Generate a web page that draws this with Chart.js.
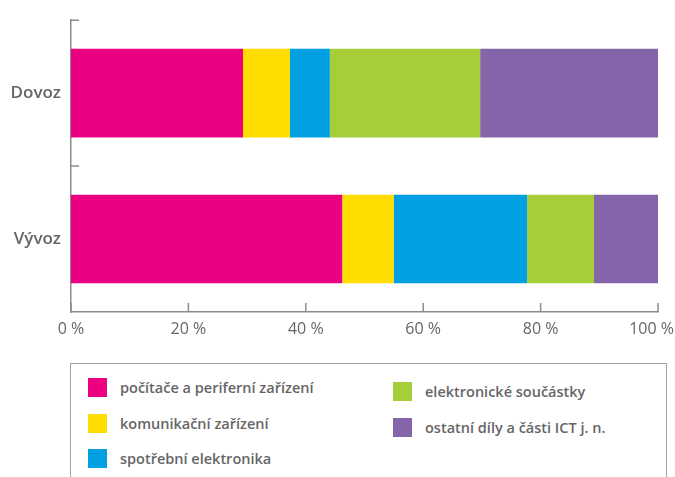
<!DOCTYPE html>
<html>
<head>
<meta charset="utf-8">
<script src="https://cdn.jsdelivr.net/npm/chart.js@4/dist/chart.umd.min.js"></script>
<style>
  body { margin: 0; background: #fff; width: 675px; height: 477px; overflow: hidden; position: relative; font-family: "Open Sans", sans-serif; }
  #wrap { position: absolute; left: 0; top: 0; width: 675px; height: 345px; }
  #legend { position: absolute; left: 70px; top: 363px; width: 597px; height: 130px; border: 1.5px solid #a3a3a3; box-sizing: border-box; }
  .col { position: absolute; }
  .item { display: flex; align-items: center; height: 35.5px; color: #666; font-size: 14.5px; font-weight: 600; white-space: nowrap; }
  .sw { width: 19px; height: 19px; margin-right: 13px; flex: none; }
</style>
</head>
<body>
<div id="wrap"><canvas id="myChart" width="675" height="345"></canvas></div>
<div id="legend"></div>
<script>
const categories = ["Dovoz", "Vývoz"];
const seriesNames = [
  "počítače a periferní zařízení",
  "komunikační zařízení",
  "spotřební elektronika",
  "elektronické součástky",
  "ostatní díly a části ICT j. n."
];
const pocitace = [29.3, 46.2];
const komunikace = [8.0, 8.8];
const spotrebni = [6.8, 22.7];
const soucastky = [25.6, 11.4];
const ostatni = [30.3, 10.9];
const xTicks = [0, 20, 40, 60, 80, 100];

const colors = ["#EB0081", "#FFDD00", "#00A0E3", "#A6CE39", "#8465A9"];
const AXIS = "#8c8c8c";
const TEXT = "#666666";

const values = [pocitace, komunikace, spotrebni, soucastky, ostatni];

// ticks pointing inwards from the axes, x labels kept inside the canvas
const innerTicks = {
  id: "innerTicks",
  afterDraw(chart) {
    const { ctx, chartArea, scales: { x, y } } = chart;
    ctx.save();
    ctx.strokeStyle = AXIS;
    ctx.lineWidth = 1.5;
    ctx.beginPath();
    x.ticks.forEach((t, i) => {
      const px = x.getPixelForTick(i);
      ctx.moveTo(px, chartArea.bottom);
      ctx.lineTo(px, chartArea.bottom - 9);
    });
    const n = y.ticks.length;
    const step = (y.bottom - y.top) / n;
    for (let i = 0; i < n; i++) {
      const py = y.top + i * step;
      ctx.moveTo(chartArea.left, py);
      ctx.lineTo(chartArea.left + 8, py);
    }
    ctx.stroke();

    ctx.font = "16px 'Open Sans'";
    ctx.fillStyle = TEXT;
    ctx.textAlign = "center";
    ctx.textBaseline = "middle";
    x.ticks.forEach((t, i) => {
      const label = t.value + " %";
      const w = ctx.measureText(label).width;
      let px = x.getPixelForTick(i);
      px = Math.min(px, chart.width - 1 - w / 2);
      ctx.fillText(label, px, chartArea.bottom + 17);
    });
    ctx.restore();
  }
};

const config = {
  type: "bar",
  data: {
    labels: categories,
    datasets: seriesNames.map((name, i) => ({
      label: name,
      data: values[i],
      backgroundColor: colors[i],
      borderWidth: 0,
      categoryPercentage: 1,
      barPercentage: 0.607
    }))
  },
  options: {
    indexAxis: "y",
    responsive: false,
    animation: false,
    layout: { padding: { top: 12, right: 17, left: 0, bottom: 0 } },
    plugins: {
      legend: { display: false },
      tooltip: { enabled: false }
    },
    scales: {
      x: {
        stacked: true,
        min: 0,
        max: 100,
        afterBuildTicks: (scale) => {
          scale.ticks = xTicks.map((v) => ({ value: v }));
        },
        afterFit: (scale) => {
          scale.height = 33;
          scale.paddingLeft = 0;
          scale.paddingRight = 0;
        },
        grid: { display: false, drawTicks: false },
        border: { display: true, color: AXIS, width: 1.5 },
        ticks: { display: false }
      },
      y: {
        stacked: true,
        afterFit: (scale) => {
          scale.width = 71;
        },
        grid: { display: false, drawTicks: false },
        border: { display: true, color: AXIS, width: 1.5 },
        ticks: {
          color: TEXT,
          padding: 10,
          font: { family: "Open Sans", size: 17, weight: "600" }
        }
      }
    }
  },
  plugins: [innerTicks]
};

new Chart(document.getElementById("myChart").getContext("2d"), config);

// legend in two columns
const legend = document.getElementById("legend");
const columns = [
  { left: 17, top: 6, items: [0, 1, 2] },
  { left: 322, top: 10, items: [3, 4] }
];
columns.forEach((c) => {
  const col = document.createElement("div");
  col.className = "col";
  col.style.left = c.left + "px";
  col.style.top = c.top + "px";
  c.items.forEach((i) => {
    const item = document.createElement("div");
    item.className = "item";
    const sw = document.createElement("span");
    sw.className = "sw";
    sw.style.background = colors[i];
    const label = document.createElement("span");
    label.textContent = seriesNames[i];
    item.appendChild(sw);
    item.appendChild(label);
    col.appendChild(item);
  });
  legend.appendChild(col);
});
</script>
</body>
</html>
